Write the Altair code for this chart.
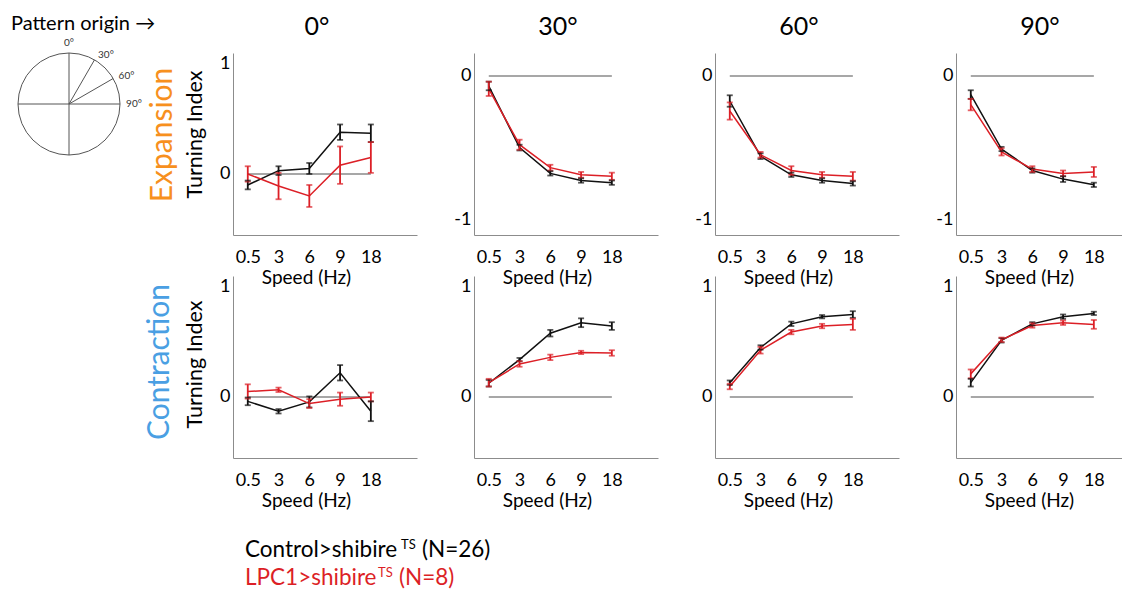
import altair as alt
import pandas as pd
import numpy as np

FONT = "Lato"

speeds = ["0.5", "3", "6", "9", "18"]
angles = ["0°", "30°", "60°", "90°"]
genotypes = ["Control", "LPC1"]
genotype_colors = ["#111111", "#dc1f26"]

# ---- Expansion (row 1) ----
exp0_ctrl = [-0.10, 0.03, 0.05, 0.38, 0.37]
exp0_ctrl_err = [0.04, 0.04, 0.05, 0.07, 0.08]
exp0_lpc1 = [0.00, -0.11, -0.20, 0.08, 0.15]
exp0_lpc1_err = [0.07, 0.12, 0.10, 0.17, 0.14]

exp30_ctrl = [-0.07, -0.50, -0.68, -0.73, -0.745]
exp30_ctrl_err = [0.03, 0.02, 0.015, 0.015, 0.015]
exp30_lpc1 = [-0.09, -0.48, -0.64, -0.69, -0.70]
exp30_lpc1_err = [0.05, 0.035, 0.02, 0.02, 0.025]

exp60_ctrl = [-0.175, -0.56, -0.69, -0.73, -0.75]
exp60_ctrl_err = [0.04, 0.02, 0.015, 0.015, 0.015]
exp60_lpc1 = [-0.245, -0.55, -0.66, -0.69, -0.70]
exp60_lpc1_err = [0.06, 0.02, 0.03, 0.02, 0.03]

exp90_ctrl = [-0.13, -0.51, -0.66, -0.72, -0.76]
exp90_ctrl_err = [0.03, 0.015, 0.015, 0.02, 0.015]
exp90_lpc1 = [-0.20, -0.53, -0.65, -0.68, -0.67]
exp90_lpc1_err = [0.04, 0.025, 0.02, 0.02, 0.035]

# ---- Contraction (row 2) ----
con0_ctrl = [-0.04, -0.13, -0.045, 0.22, -0.13]
con0_ctrl_err = [0.035, 0.02, 0.05, 0.07, 0.09]
con0_lpc1 = [0.05, 0.065, -0.06, -0.02, 0.00]
con0_lpc1_err = [0.065, 0.02, 0.04, 0.06, 0.04]

con30_ctrl = [0.125, 0.34, 0.58, 0.675, 0.645]
con30_ctrl_err = [0.03, 0.015, 0.03, 0.04, 0.035]
con30_lpc1 = [0.13, 0.30, 0.36, 0.405, 0.40]
con30_lpc1_err = [0.035, 0.025, 0.025, 0.015, 0.025]

con60_ctrl = [0.13, 0.45, 0.665, 0.73, 0.75]
con60_ctrl_err = [0.02, 0.02, 0.02, 0.015, 0.03]
con60_lpc1 = [0.095, 0.425, 0.59, 0.645, 0.66]
con60_lpc1_err = [0.025, 0.03, 0.02, 0.02, 0.05]

con90_ctrl = [0.13, 0.515, 0.665, 0.73, 0.76]
con90_ctrl_err = [0.035, 0.02, 0.015, 0.02, 0.015]
con90_lpc1 = [0.21, 0.52, 0.65, 0.675, 0.66]
con90_lpc1_err = [0.04, 0.02, 0.02, 0.02, 0.04]

series = {
    ("Expansion", "0°"): (exp0_ctrl, exp0_ctrl_err, exp0_lpc1, exp0_lpc1_err),
    ("Expansion", "30°"): (exp30_ctrl, exp30_ctrl_err, exp30_lpc1, exp30_lpc1_err),
    ("Expansion", "60°"): (exp60_ctrl, exp60_ctrl_err, exp60_lpc1, exp60_lpc1_err),
    ("Expansion", "90°"): (exp90_ctrl, exp90_ctrl_err, exp90_lpc1, exp90_lpc1_err),
    ("Contraction", "0°"): (con0_ctrl, con0_ctrl_err, con0_lpc1, con0_lpc1_err),
    ("Contraction", "30°"): (con30_ctrl, con30_ctrl_err, con30_lpc1, con30_lpc1_err),
    ("Contraction", "60°"): (con60_ctrl, con60_ctrl_err, con60_lpc1, con60_lpc1_err),
    ("Contraction", "90°"): (con90_ctrl, con90_ctrl_err, con90_lpc1, con90_lpc1_err),
}

rows = []
for (pattern, ang), (cm, ce, lm, le) in series.items():
    for g, m, e in (("Control", cm, ce), ("LPC1", lm, le)):
        for i in range(len(speeds)):
            rows.append(dict(pattern=pattern, angle=ang, genotype=g, idx=i,
                             mean=m[i], lo=m[i] - e[i], hi=m[i] + e[i]))
df = pd.DataFrame(rows)

x_label_expr = "[" + ",".join(f"'{s}'" for s in speeds) + "][datum.value]"
y_label_expr = "datum.value < 0 ? '-' + abs(datum.value) : '' + datum.value"

color = alt.Color("genotype:N", scale=alt.Scale(domain=genotypes, range=genotype_colors), legend=None)

PX_PER_STEP = 30.77
ROW_H = 182
PANEL_W = 184
one = pd.DataFrame({"k": [0]})


def panel(pattern, ai):
    ang = angles[ai]
    d = df[(df.pattern == pattern) & (df.angle == ang)]
    width = 166 if ai == 3 else PANEL_W
    xdom = [-0.48, -0.48 + width / PX_PER_STEP]
    neg = pattern == "Expansion" and ai > 0
    ydom = [-1.11, 0.16] if neg else [-0.555, 1.1]
    yvals = [-1, 0] if neg else [0, 1]
    first = ai == 0

    xaxis = alt.Axis(values=list(range(len(speeds))), labelExpr=x_label_expr,
                     title="Speed (Hz)", labelPadding=13, labelFontSize=18,
                     titleFontSize=19, titleX=73, titleY=33)
    if first:
        yaxis = alt.Axis(values=yvals, labelExpr=y_label_expr, title="Turning Index",
                         labelPadding=3, labelFontSize=18, titleFontSize=21.5, titlePadding=13,
                         titleY=81 if pattern == "Expansion" else 88)
    else:
        yaxis = alt.Axis(values=yvals, labelExpr=y_label_expr, title=None,
                         labelPadding=3, labelFontSize=18)

    xs = alt.Scale(domain=xdom, nice=False, zero=False)
    ys = alt.Scale(domain=ydom, nice=False, zero=False)

    def X(f):
        return alt.X(f, type="quantitative", scale=xs, axis=xaxis)

    def Y(f):
        return alt.Y(f, type="quantitative", scale=ys, axis=yaxis)

    zero_df = pd.DataFrame({"x0": [0], "x1": [len(speeds) - 1], "v": [0]})
    zero = alt.Chart(zero_df).mark_rule(color="#8a8a8a", strokeWidth=1.6).encode(
        x=X("x0"), x2="x1", y=Y("v"))
    base = alt.Chart(d)
    line = base.mark_line(strokeWidth=1.5).encode(x=X("idx"), y=Y("mean"), color=color)
    err = base.mark_rule(strokeWidth=1.8).encode(x=X("idx"), y=Y("lo"), y2="hi", color=color)
    cap_lo = base.mark_tick(orient="horizontal", size=6, thickness=1.8).encode(
        x=X("idx"), y=Y("lo"), color=color)
    cap_hi = base.mark_tick(orient="horizontal", size=6, thickness=1.8).encode(
        x=X("idx"), y=Y("hi"), color=color)
    layers = [zero, line, err, cap_lo, cap_hi]

    if pattern == "Expansion":
        title = alt.Chart(one).mark_text(align="center", baseline="alphabetic", fontSize=25,
                                         font=FONT, color="black").encode(
            x=alt.value(PANEL_W / 2 - 8), y=alt.value(-18), text=alt.value(ang))
        layers.append(title)
    return alt.layer(*layers).properties(width=width, height=ROW_H)


# ---- top-left diagram: pattern origin ----
LEFT_W = 176
R_PX = 51
CX, CY = 69, 51
xdom_d = [-CX / R_PX, (LEFT_W - CX) / R_PX]
ydom_d = [-(ROW_H - CY) / R_PX, CY / R_PX]
xsd = alt.Scale(domain=xdom_d, nice=False, zero=False)
ysd = alt.Scale(domain=ydom_d, nice=False, zero=False)

spoke_angles = [0, 30, 60, 90, 180, 270]
label_angles = [0, 30, 60, 90]
spokes = pd.DataFrame({
    "x0": 0.0, "y0": 0.0,
    "x1": [np.sin(np.radians(a)) for a in spoke_angles],
    "y1": [np.cos(np.radians(a)) for a in spoke_angles],
})
labels_df = pd.DataFrame({
    "lx": [np.sin(np.radians(a)) * 1.1 for a in label_angles],
    "ly": [np.cos(np.radians(a)) * 1.1 for a in label_angles],
    "t": [f"{a}°" for a in label_angles],
    "a": label_angles,
})
center = pd.DataFrame({"cx": [0.0], "cy": [0.0]})

circle = alt.Chart(center).mark_point(shape="circle", filled=False, color="#555555",
                                      strokeWidth=1, opacity=1).encode(
    x=alt.X("cx:Q", scale=xsd, axis=None), y=alt.Y("cy:Q", scale=ysd, axis=None),
    size=alt.value((2 * R_PX) ** 2))
spoke_layer = alt.Chart(spokes).mark_rule(color="#555555", strokeWidth=1).encode(
    x=alt.X("x0:Q", scale=xsd, axis=None), y=alt.Y("y0:Q", scale=ysd, axis=None),
    x2="x1", y2="y1")
lab0 = alt.Chart(labels_df).transform_filter("datum.a == 0").mark_text(
    align="center", baseline="bottom", fontSize=10, font=FONT, color="#333333").encode(
    x=alt.X("lx:Q", scale=xsd, axis=None), y=alt.Y("ly:Q", scale=ysd, axis=None), text="t")
labn = alt.Chart(labels_df).transform_filter("datum.a > 0").mark_text(
    align="left", baseline="middle", fontSize=10, font=FONT, color="#333333", dx=1).encode(
    x=alt.X("lx:Q", scale=xsd, axis=None), y=alt.Y("ly:Q", scale=ysd, axis=None), text="t")

anchor = alt.Chart(one).mark_text(align="left", baseline="top", color="white", fontSize=4).encode(
    x=alt.value(0), y=alt.value(-53), text=alt.value("."))
pattern_txt = alt.Chart(one).mark_text(align="left", baseline="middle", fontSize=20,
                                       font=FONT, color="black").encode(
    x=alt.value(11), y=alt.value(-29), text=alt.value("Pattern origin →"))
exp_txt = alt.Chart(one).mark_text(align="center", baseline="middle", fontSize=30, angle=270,
                                   font=FONT, color="#f7901e").encode(
    x=alt.value(163), y=alt.value(82), text=alt.value("Expansion"))

diag = alt.layer(anchor, pattern_txt, circle, spoke_layer, lab0, labn, exp_txt).properties(
    width=LEFT_W, height=ROW_H)

# ---- row 2 left cell: row label + legend text ----
con_txt = alt.Chart(one).mark_text(align="center", baseline="middle", fontSize=30, angle=270,
                                   font=FONT, color="#4a9fe3").encode(
    x=alt.value(160), y=alt.value(86), text=alt.value("Contraction"))

legend_main = ["Control>shibire", "LPC1>shibire"]
legend_n = ["(N=26)", "(N=8)"]


def legend_line(i, y_base, x_sup, x_n):
    c = genotype_colors[i] if i == 1 else "#000000"
    main = alt.Chart(one).mark_text(align="left", baseline="alphabetic", fontSize=22.5,
                                    font=FONT, color=c).encode(
        x=alt.value(245), y=alt.value(y_base), text=alt.value(legend_main[i]))
    sup = alt.Chart(one).mark_text(align="left", baseline="alphabetic", fontSize=13,
                                   font=FONT, color=c).encode(
        x=alt.value(x_sup), y=alt.value(y_base - 8), text=alt.value("TS"))
    nn = alt.Chart(one).mark_text(align="left", baseline="alphabetic", fontSize=22.5,
                                  font=FONT, color=c).encode(
        x=alt.value(x_n), y=alt.value(y_base), text=alt.value(legend_n[i]))
    return [main, sup, nn]


left2 = alt.layer(con_txt, *legend_line(0, 281, 401, 422), *legend_line(1, 309, 378, 399)).properties(
    width=LEFT_W, height=ROW_H)

cells = [diag] + [panel("Expansion", i) for i in range(4)] + \
        [left2] + [panel("Contraction", i) for i in range(4)]

chart = alt.concat(*cells, columns=5, spacing={"row": 41, "column": 57},
                   bounds="flush", align="each").properties(
    padding=0, background="white"
).configure_view(stroke=None).configure_axis(
    grid=False, ticks=False, tickSize=0, domainColor="#8c8c8c", domainWidth=1,
    labelFont=FONT, titleFont=FONT, labelFontSize=17, titleFontSize=19,
    titleFontWeight="normal", labelColor="black", titleColor="black"
)

chart.save("out.html", embed_options={"renderer": "svg", "actions": False})
